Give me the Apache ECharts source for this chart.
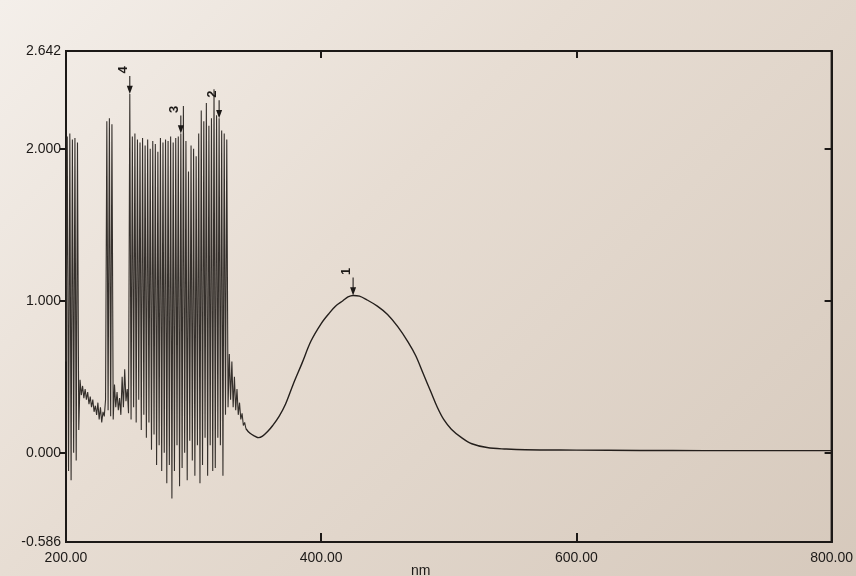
<!DOCTYPE html>
<html><head><meta charset="utf-8">
<script src="https://cdn.jsdelivr.net/npm/echarts@6/dist/echarts.min.js"></script>
<style>
html,body{margin:0;padding:0;}
#c{width:856px;height:576px;background:linear-gradient(135deg,#f4efea 0%,#e7ddd3 40%,#d6c9bc 100%);}
</style>
</head><body><div id="c"></div>
<script>
// noisy region (saturated absorbance), wavelength (nm)
const noiseNm = [
200,201,202,203,204,205,206,207,208,209,210,211,212,213,214,215,216,217,218,219,
220,221,222,223,224,225,226,227,228,229,230,231,232,233,234,235,236,237,238,239,
240,241,242,243,244,245,246,247,248,249,250,251,252,253,254,255,256,257,258,259,
260,261,262,263,264,265,266,267,268,269,270,271,272,273,274,275,276,277,278,279,
280,281,282,283,284,285,286,287,288,289,290,291,292,293,294,295,296,297,298,299,
300,301,302,303,304,305,306,307,308,309,310,311,312,313,314,315,316,317,318,319,
320,321,322,323,324,325,326,327,328,329,330,331,332,333,334,335,336,337,338,339,
340,341
];
// noisy region absorbance
const noiseAbs = [
0.60,2.08,-0.12,2.10,-0.18,2.06,0.00,2.07,-0.05,2.04,0.15,0.48,0.38,0.44,0.36,0.42,0.35,0.40,0.32,0.37,
0.30,0.35,0.27,0.31,0.25,0.33,0.22,0.30,0.20,0.27,0.24,0.35,2.18,0.28,2.20,0.24,2.16,0.22,0.45,0.30,
0.40,0.28,0.36,0.25,0.50,0.30,0.55,0.34,0.42,0.26,2.36,0.22,2.08,0.30,2.10,0.20,2.06,0.35,2.04,0.15,
2.07,0.25,2.02,0.10,2.06,0.20,2.00,0.02,2.05,0.12,2.03,-0.08,1.98,0.05,2.07,-0.12,2.04,0.00,2.06,-0.20,
2.05,-0.08,2.08,-0.30,2.04,-0.12,2.07,0.05,2.08,-0.22,2.10,-0.10,2.28,0.00,2.05,-0.18,1.85,0.08,2.02,-0.05,
2.00,-0.15,1.95,0.05,2.10,-0.20,2.25,-0.08,2.18,0.10,2.30,-0.15,2.15,0.05,2.20,-0.12,2.39,-0.10,2.22,0.10,
2.20,0.05,2.12,-0.15,2.10,0.25,2.06,0.30,0.65,0.35,0.60,0.30,0.50,0.28,0.42,0.25,0.33,0.22,0.26,0.18,
0.20,0.16
];
// smooth absorption band, wavelength (nm)
const bandNm = [
341,344,348,351,354,358,362,367,372,378,385,392,400,406,412,417,421,425,430,436,
444,452,460,468,474,480,486,491,496,502,510,518,530,545,560,600,650,700,750,800
];
// smooth absorption band absorbance
const bandAbs = [
0.16,0.13,0.11,0.10,0.11,0.14,0.18,0.24,0.32,0.45,0.59,0.735,0.85,0.915,0.97,1.00,1.025,1.035,1.03,1.005,
0.965,0.91,0.83,0.73,0.64,0.52,0.40,0.30,0.22,0.156,0.10,0.06,0.035,0.025,0.02,0.018,0.016,0.015,0.015,0.015
];
// marked peaks
const peakLabels = ['1','2','3','4'];
const peakNm = [425, 320, 290, 250];
const peakAbs = [1.035, 2.20, 2.10, 2.36];
// axis ticks
const xTicks = [200, 400, 600, 800];
const yLabelValues = [-0.586, 0, 1, 2, 2.642];
const yTickValues = [0, 1, 2];

const chart = echarts.init(document.getElementById('c'), null, {renderer:'canvas'});
const noiseData = noiseNm.map((w,i)=>[w, noiseAbs[i]]);
const bandData = bandNm.map((w,i)=>[w, bandAbs[i]]);
const font = "'Liberation Sans', Arial, sans-serif";
const ink = '#1c1917';
const arrowPath = 'path://M3.3,0 H4.7 V13 H8 L4,24 L0,13 H3.3 Z';

chart.setOption({
  animation:false,
  backgroundColor:'transparent',
  grid:{left:66, right:23, top:51, bottom:34, show:true, borderColor:ink, borderWidth:2, backgroundColor:'transparent'},
  xAxis:[{
    type:'value', min:xTicks[0], max:xTicks[xTicks.length-1], interval:200, position:'bottom',
    axisLine:{show:true, onZero:false, lineStyle:{color:ink, width:2}},
    axisTick:{show:true, inside:true, length:9, lineStyle:{color:ink, width:2}},
    axisLabel:{show:true, margin:9, color:ink, fontSize:14, fontFamily:font, formatter:v=>v.toFixed(2)},
    splitLine:{show:false}
  },{
    type:'value', min:xTicks[0], max:xTicks[xTicks.length-1], interval:200, position:'top',
    axisLine:{show:true, onZero:false, lineStyle:{color:ink, width:2}},
    axisTick:{show:true, inside:true, length:7, lineStyle:{color:ink, width:2}},
    axisLabel:{show:false}, splitLine:{show:false}
  }],
  yAxis:[{
    type:'value', min:yLabelValues[0], max:yLabelValues[yLabelValues.length-1], position:'left',
    axisLine:{show:true, onZero:false, lineStyle:{color:ink, width:2}},
    axisTick:{show:true, inside:false, length:6, customValues:yTickValues, lineStyle:{color:ink, width:2}},
    axisLabel:{show:true, margin:5, color:ink, fontSize:14, fontFamily:font, customValues:yLabelValues, formatter:v=>v.toFixed(3)},
    splitLine:{show:false}
  },{
    type:'value', min:yLabelValues[0], max:yLabelValues[yLabelValues.length-1], position:'right',
    axisLine:{show:true, onZero:false, lineStyle:{color:ink, width:2}},
    axisTick:{show:true, inside:true, length:7, customValues:yTickValues, lineStyle:{color:ink, width:2}},
    axisLabel:{show:false}, splitLine:{show:false}
  }],
  graphic:[{type:'text', left:411, top:564, style:{text:'nm', fill:ink, font:"14px "+font}}],
  series:[{
    type:'line', xAxisIndex:0, yAxisIndex:0, data:noiseData, showSymbol:false, smooth:false,
    sampling:null, clip:true,
    lineStyle:{color:'#35302c', width:1.1},
    markPoint:{
      symbol:arrowPath, symbolSize:[6,18], symbolOffset:[0,-9], symbolKeepAspect:false,
      itemStyle:{color:ink},
      label:{show:true, position:'top', distance:6, rotate:90, color:ink, fontSize:13, fontWeight:'bold', fontFamily:font, formatter:p=>p.name},
      data: peakLabels.map((l,i)=>({name:l, coord:[peakNm[i], peakAbs[i]]}))
    }
  },{
    type:'line', xAxisIndex:0, yAxisIndex:0, data:bandData, showSymbol:false, smooth:0.35,
    clip:true, lineStyle:{color:'#241f1c', width:1.4}
  }]
});
</script></body></html>
